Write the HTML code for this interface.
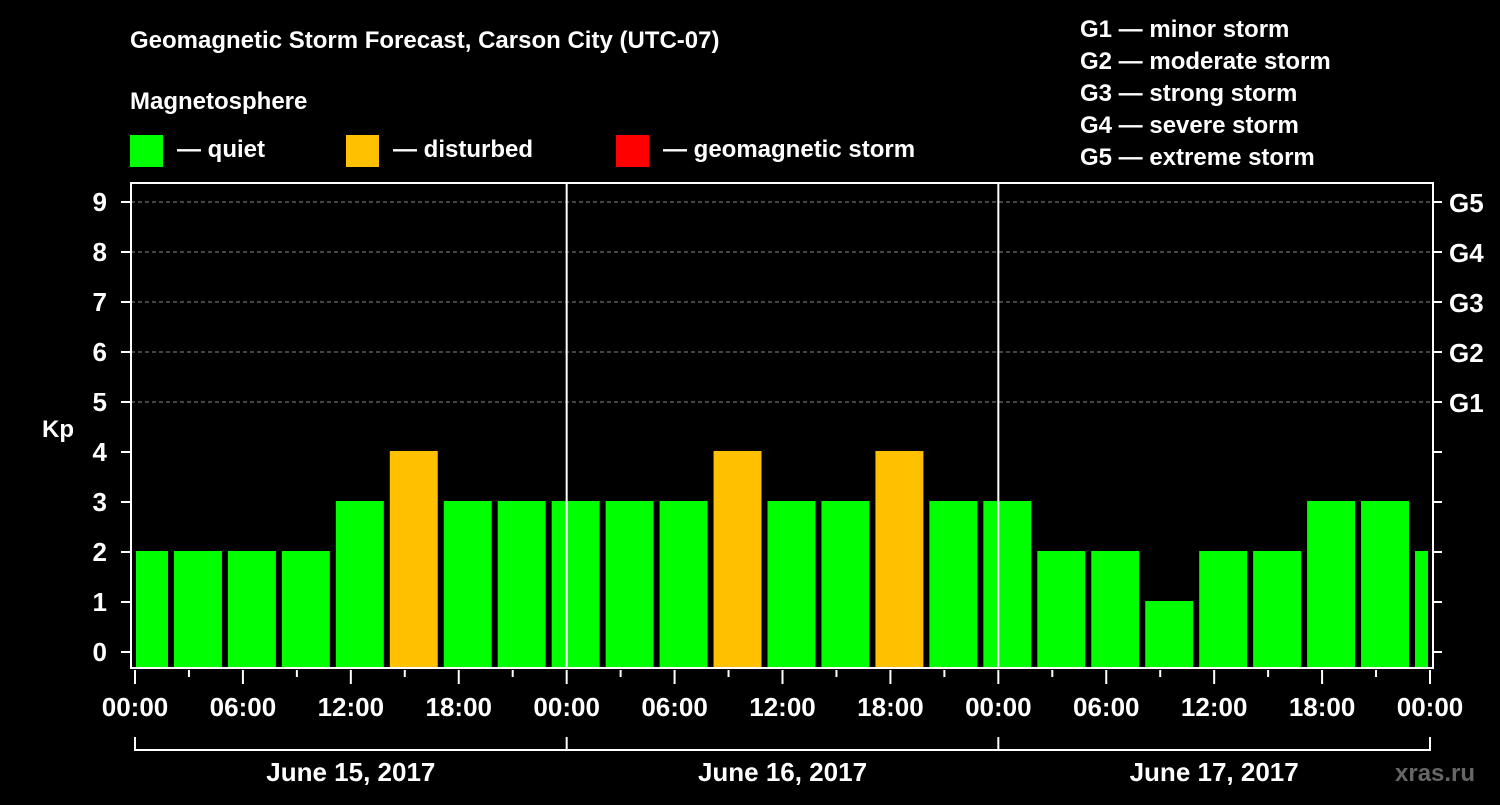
<!DOCTYPE html>
<html><head><meta charset="utf-8"><style>
body{margin:0;background:#000;width:1500px;height:800px;overflow:hidden}
svg text{font-family:"Liberation Sans",sans-serif;font-weight:bold;fill:#fff}
</style></head><body>
<svg width="1500" height="800">
<text x="130" y="48" font-size="24">Geomagnetic Storm Forecast, Carson City (UTC-07)</text>
<text x="130" y="109" font-size="24">Magnetosphere</text>
<rect x="130" y="135" width="33" height="32" fill="#00ff00"/>
<text x="177" y="157" font-size="24">— quiet</text>
<rect x="346" y="135" width="33" height="32" fill="#ffc000"/>
<text x="393" y="157" font-size="24">— disturbed</text>
<rect x="616" y="135" width="33" height="32" fill="#ff0000"/>
<text x="663" y="157" font-size="24">— geomagnetic storm</text>
<g font-size="24">
<text x="1080" y="37">G1 — minor storm</text>
<text x="1080" y="69">G2 — moderate storm</text>
<text x="1080" y="101">G3 — strong storm</text>
<text x="1080" y="133">G4 — severe storm</text>
<text x="1080" y="165">G5 — extreme storm</text>
</g>
<text x="42" y="437" font-size="24">Kp</text>
<text x="1395" y="781" font-size="24" fill="#555" style="fill:#666">xras.ru</text>
<g id="grid"></g><g id="bars"></g><g id="axes"></g>
</svg>
<script>
const startHours=[-1,2,5,8,11,14,17,20,23,26,29,32,35,38,41,44,47,50,53,56,59,62,65,68,71];
const kpValues=[2,2,2,2,3,4,3,3,3,3,3,4,3,3,4,3,3,2,2,1,2,2,3,3,2];
const yTicks=[0,1,2,3,4,5,6,7,8,9];
const gLabels=["G1","G2","G3","G4","G5"];
const gLevels=[5,6,7,8,9];
const xLabels=["00:00","06:00","12:00","18:00","00:00","06:00","12:00","18:00","00:00","06:00","12:00","18:00","00:00"];
const dateLabels=["June 15, 2017","June 16, 2017","June 17, 2017"];
const NS="http://www.w3.org/2000/svg";
const X0=135,X1=1430,PL=131,PR=1433,PT=183,PB=668;
const x=h=>X0+(X1-X0)*h/72, y=v=>652-50*v;
function mk(p,tag,a){const e=document.createElementNS(NS,tag);for(const k in a)e.setAttribute(k,a[k]);p.appendChild(e);return e;}
const grid=document.getElementById('grid'),bars=document.getElementById('bars'),axes=document.getElementById('axes');
gLevels.forEach((v,i)=>{
 const l=mk(grid,'line',{x1:PL,x2:PR,y1:y(v),y2:y(v),stroke:'#888','stroke-dasharray':'4,3','stroke-width':1});
 
 
 const t=mk(axes,'text',{x:1449,y:y(v)+10,'font-size':26});t.textContent=gLabels[i];
 
 
});
startHours.forEach((h,i)=>{
 const v=kpValues[i];
 const a=Math.max(x(h)+3,PL+5),b=Math.min(x(h+3)-3,X1-2);
 const col=v>=5?'#ff0000':v>=4?'#ffc000':'#00ff00';
 const r=mk(bars,'rect',{x:a,y:y(v)-1,width:b-a,height:PB-y(v)+1,fill:col});
 
 
});
[1,2].forEach(d=>{const l=mk(axes,'line',{x1:x(24*d),x2:x(24*d),y1:PT,y2:PB,stroke:'#fff','stroke-width':2});
 
 });
const frame=mk(axes,'path',{d:`M${PL} ${PT}H${PR}V${PB}H${PL}Z`,fill:'none',stroke:'#fff','stroke-width':2});


yTicks.forEach(v=>{
 mk(axes,'line',{x1:121,x2:PL,y1:y(v),y2:y(v),stroke:'#fff','stroke-width':2});
 mk(axes,'line',{x1:PR,x2:1442,y1:y(v),y2:y(v),stroke:'#fff','stroke-width':2});
 const t=mk(axes,'text',{x:107,y:y(v)+9,'font-size':26,'text-anchor':'end'});t.textContent=v;
 
 
});
for(let h=0;h<=72;h+=3){mk(axes,'line',{x1:x(h),x2:x(h),y1:PB+2,y2:PB+(h%6?9:16),stroke:'#fff','stroke-width':2});}
xLabels.forEach((s,i)=>{const t=mk(axes,'text',{x:x(6*i),y:716,'font-size':26,'text-anchor':'middle'});t.textContent=s;
 
 });
const br=mk(axes,'path',{d:`M${x(0)} 737V750H${x(72)}V737`,fill:'none',stroke:'#fff','stroke-width':2});


dateLabels.forEach((s,i)=>{
 if(i>0)mk(axes,'line',{x1:x(24*i),x2:x(24*i),y1:737,y2:750,stroke:'#fff','stroke-width':2});
 const t=mk(axes,'text',{x:x(24*i+12),y:781,'font-size':26,'text-anchor':'middle'});t.textContent=s;
 
 
});
</script>
</body></html>
